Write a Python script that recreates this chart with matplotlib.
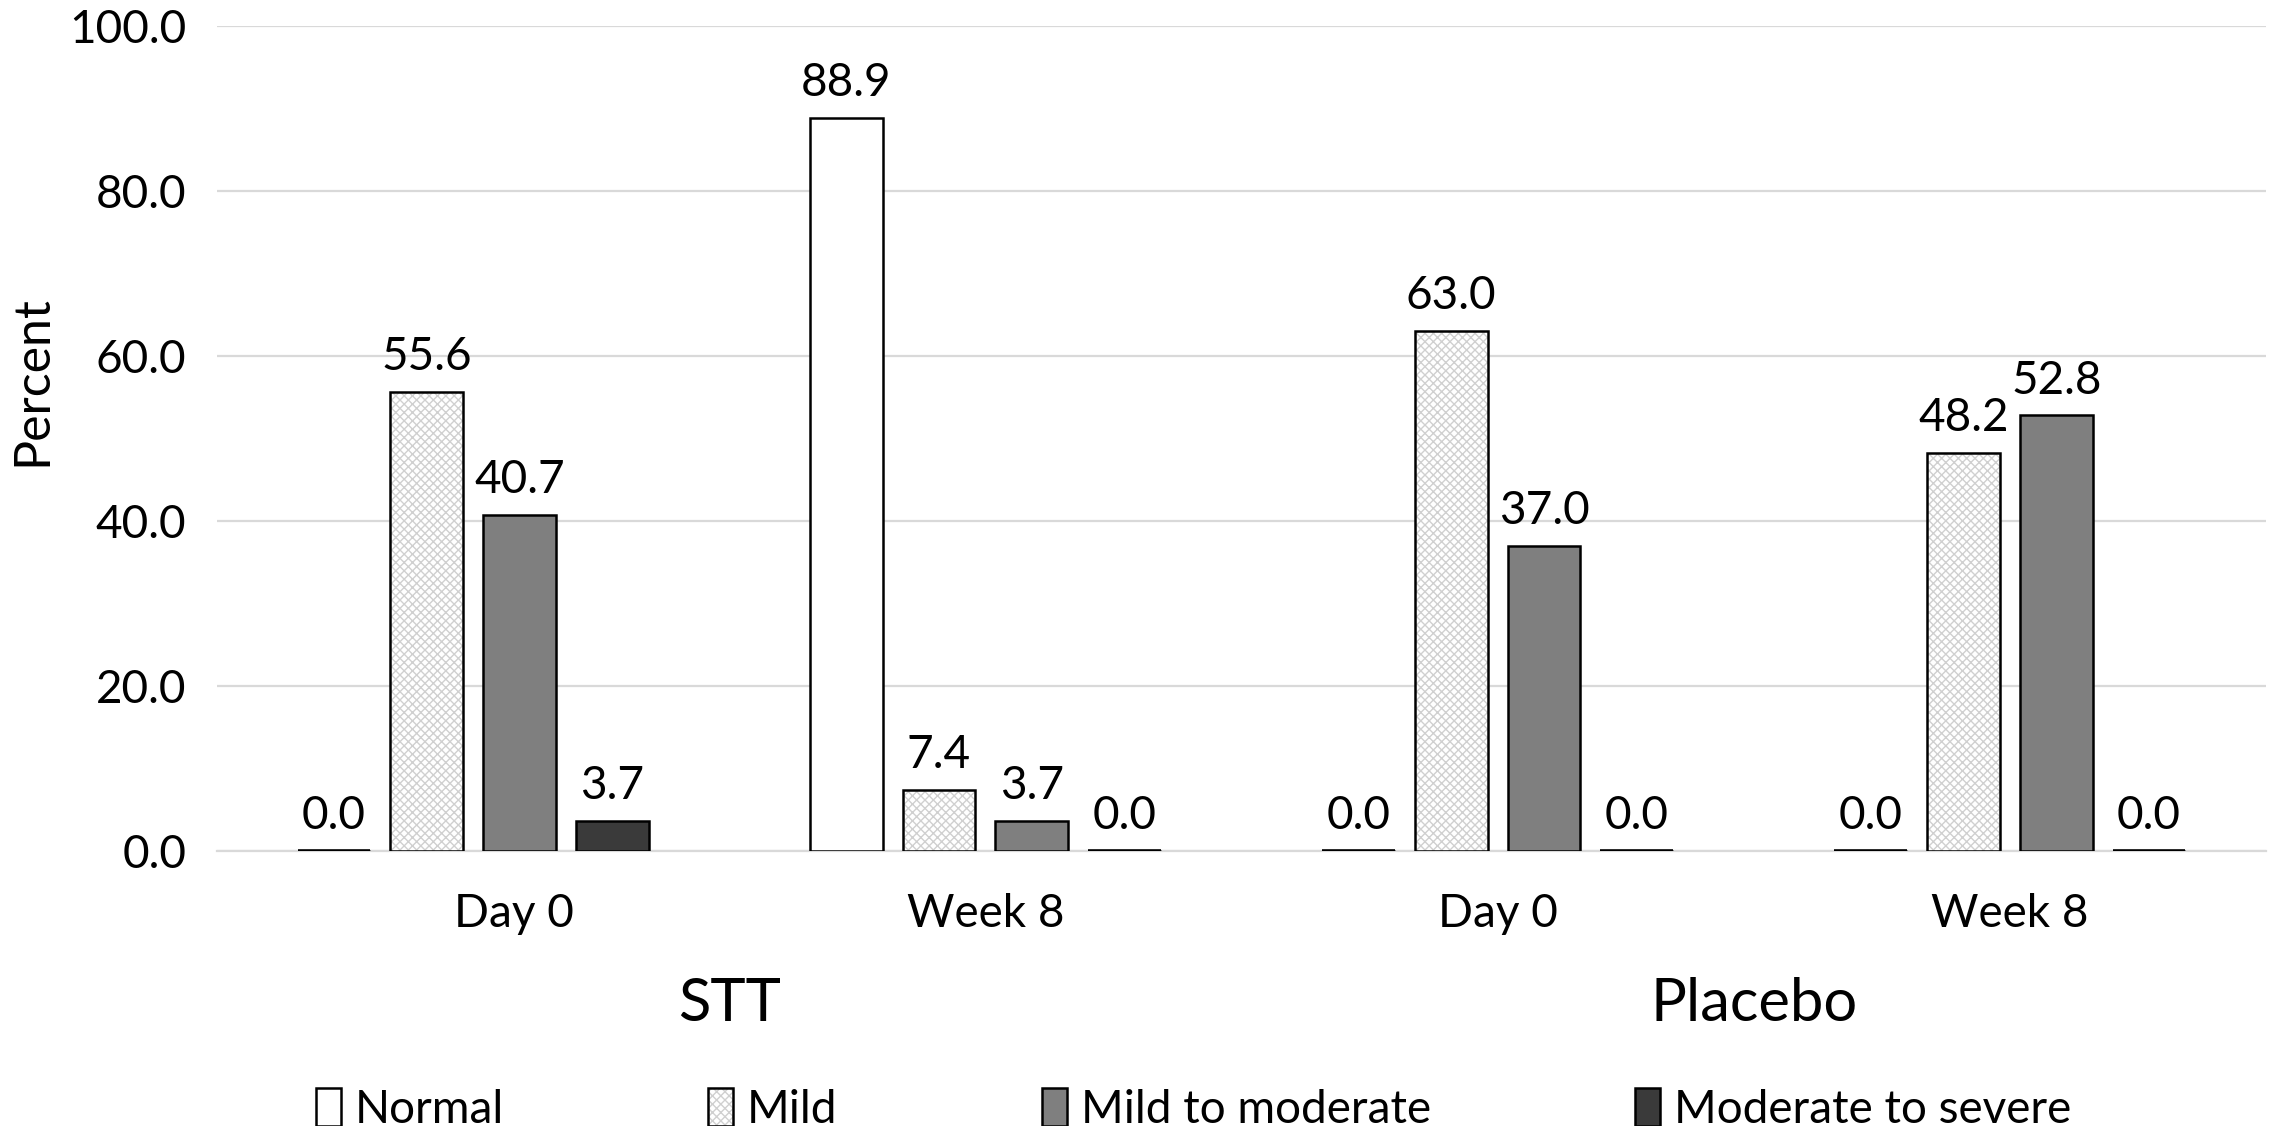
import matplotlib
matplotlib.use('Agg')
import matplotlib.pyplot as plt
from matplotlib.patches import Patch
from matplotlib.legend_handler import HandlerTuple
import numpy as np

plt.rcParams['font.family'] = ['Lato', 'DejaVu Sans']

# Dữ liệu
time_points = ['Day 0', 'Week 8', 'Day 0', 'Week 8']
groups = ['STT', 'Placebo']
severity = ['Normal', 'Mild', 'Mild to moderate', 'Moderate to severe']
normal = [0.0, 88.9, 0.0, 0.0]
mild = [55.6, 7.4, 63.0, 48.2]
mild_moderate = [40.7, 3.7, 37.0, 52.8]
moderate_severe = [3.7, 0.0, 0.0, 0.0]
y_ticks = [0, 20, 40, 60, 80, 100]

series = [normal, mild, mild_moderate, moderate_severe]
face_colors = ['white', '#f0f0f0', '#7f7f7f', '#3a3a3a']

fig = plt.figure(figsize=(22.82, 11.26), dpi=100)
ax = fig.add_axes([0.0951, 0.2442, 0.8979, 0.7327])

x = np.arange(len(time_points))
step = 0.181
width = 0.142
fs = 33

handles = []
for k, (vals, col) in enumerate(zip(series, face_colors)):
    pos = x + (k - 1.5) * step
    if k == 1:
        # lớp hoa văn ô caro cho "Mild"
        ax.bar(pos, vals, width, color='white', hatch='xxxx', edgecolor='#d0d0d0',
               linewidth=0, zorder=3)
        ax.bar(pos, vals, width, color='none', edgecolor='black', linewidth=1.8, zorder=4)
        handles.append((Patch(facecolor='white', hatch='xxxx', edgecolor='#d0d0d0', linewidth=0),
                        Patch(facecolor='none', edgecolor='black', linewidth=1.8)))
    else:
        ax.bar(pos, vals, width, color=col, edgecolor='black', linewidth=1.8, zorder=3)
        handles.append(Patch(facecolor=col, edgecolor='black', linewidth=1.8))
    # cột bằng 0 hiển thị thành vạch đen
    zero = [p for p, v in zip(pos, vals) if v == 0]
    ax.hlines([0] * len(zero), [p - width / 2 for p in zero], [p + width / 2 for p in zero],
              color='black', linewidth=2.6, zorder=5)
    for xp, v in zip(pos, vals):
        ax.annotate(f'{v:.1f}', (xp, v), xytext=(0, 10), textcoords='offset points',
                    ha='center', va='bottom', fontsize=fs)

ax.set_xlim(-0.5, 3.5)
ax.set_ylim(0, 100)
ax.set_yticks(y_ticks)
ax.set_yticklabels([f'{t:.1f}' for t in y_ticks], fontsize=fs)
ax.yaxis.grid(True, color='#d9d9d9', linewidth=1.6, zorder=0)
ax.set_axisbelow(True)
ax.tick_params(axis='y', length=0, pad=22)
ax.set_xticks([])
for s in ['top', 'right', 'left']:
    ax.spines[s].set_visible(False)
ax.spines['bottom'].set_color('#d9d9d9')
ax.spines['bottom'].set_linewidth(1.6)
ax.set_ylabel('Percent', fontsize=36, va='center')
ax.yaxis.set_label_coords(-0.0903, 0.57)

# Nhãn thời điểm và nhóm
offsets = [0.08, 0, 0, 0]
for i, lab in enumerate(time_points):
    ax.text(i + offsets[i], -7.6, lab, ha='center', va='center', fontsize=fs)
for j, g in enumerate(groups):
    ax.text(2 * j + 0.5, -18.6, g, ha='center', va='center', fontsize=43)

leg = fig.legend(handles, severity, loc='center', bbox_to_anchor=(0.523, 0.015), ncol=4,
                 frameon=False, fontsize=fs, handlelength=0.55, handleheight=0.9,
                 handletextpad=0.3, columnspacing=4.45,
                 handler_map={tuple: HandlerTuple(ndivide=1)})

fig.savefig('out.png', dpi=100)
